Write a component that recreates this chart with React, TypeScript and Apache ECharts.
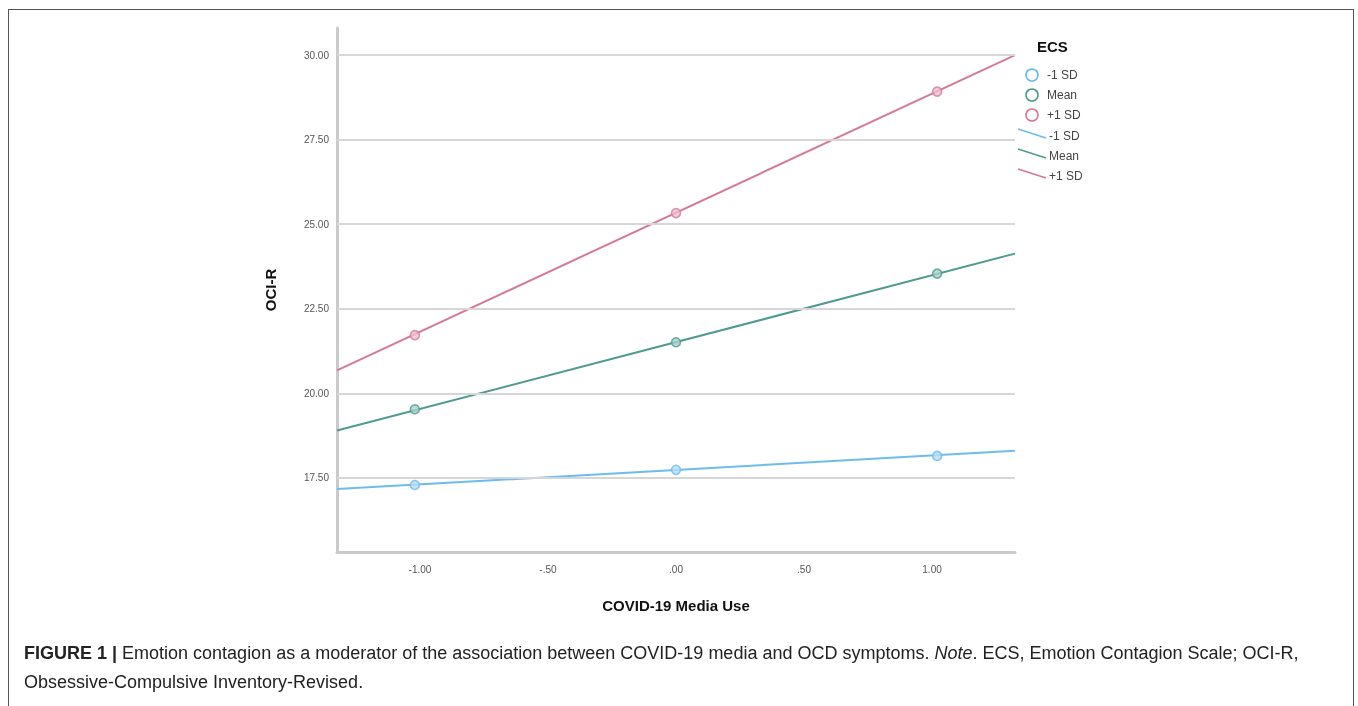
import React, { useEffect, useRef } from "react";
import * as echarts from "echarts";

// ---- data ----
const xPoints = [-1.02, 0.0, 1.02];
const lowSD = [17.29, 17.74, 18.15];
const meanSD = [19.53, 21.51, 23.54];
const highSD = [21.72, 25.33, 28.92];

const xRange = [-1.324, 1.324];
const lowFit = [17.17, 18.3];
const meanFit = [18.9, 24.13];
const highFit = [20.68, 30.0];

const yTicks = [17.5, 20, 22.5, 25, 27.5, 30];
const xTicks = [-1, -0.5, 0, 0.5, 1];
const groups = ["-1 SD", "Mean", "+1 SD"];

const COLORS = ["#6cbcee", "#4f9a92", "#d4799c"];
const FILLS = ["#b8dcf5", "#a9cfca", "#ecc0d1"];

const fmtX = (v: number) => {
  const s = Math.abs(v).toFixed(2).replace(/^0/, "");
  return (v < 0 ? "-" : "") + s;
};

export default function App() {
  const ref = useRef<HTMLDivElement>(null);
  useEffect(() => {
    if (!ref.current) return;
    const chart = echarts.init(ref.current, undefined, { renderer: "svg" });
    const pts = [lowSD, meanSD, highSD];
    const fits = [lowFit, meanFit, highFit];
    const series: any[] = [
      {
        type: "scatter",
        name: "grid",
        data: [],
        z: 1,
        silent: true,
        markLine: {
          silent: true,
          symbol: "none",
          label: { show: false },
          lineStyle: { color: "#d6d6d6", width: 2, type: "solid" },
          data: yTicks.map((v) => ({ yAxis: v })),
        },
      },
    ];
    groups.forEach((g, i) => {
      series.push({
        type: "line",
        name: g + " fit",
        data: xRange.map((x, k) => [x, fits[i][k]]),
        showSymbol: false,
        symbol: "none",
        lineStyle: { color: COLORS[i], width: 2 },
        z: 3,
      });
      series.push({
        type: "scatter",
        name: g,
        data: xPoints.map((x, k) => [x, pts[i][k]]),
        symbol: "circle",
        symbolSize: 9,
        itemStyle: { color: FILLS[i], borderColor: COLORS[i], borderWidth: 1.6 },
        z: 4,
      });
    });

    const legendX = 1032;
    const graphic: any[] = [
      {
        type: "text",
        left: 1037,
        top: 39,
        style: { text: "ECS", font: "bold 15px 'Liberation Sans', Arial", fill: "#111" },
      },
    ];
    groups.forEach((g, i) => {
      const cy = 75 + i * 20;
      graphic.push({
        type: "circle",
        shape: { cx: legendX, cy, r: 6 },
        style: { fill: "#fff", stroke: COLORS[i], lineWidth: 1.6 },
      });
      graphic.push({
        type: "text",
        x: 1047,
        y: cy,
        style: { text: g, font: "12px 'Liberation Sans', Arial", fill: "#444", verticalAlign: "middle" },
      });
    });
    groups.forEach((g, i) => {
      const cy = 136 + i * 20;
      graphic.push({
        type: "line",
        shape: { x1: 1018, y1: cy - 7, x2: 1046, y2: cy + 2 },
        style: { stroke: COLORS[i], lineWidth: 1.6 },
      });
      graphic.push({
        type: "text",
        x: 1049,
        y: cy,
        style: { text: g, font: "12px 'Liberation Sans', Arial", fill: "#444", verticalAlign: "middle" },
      });
    });
    graphic.push({
      type: "text",
      x: 24,
      y: 638,
      style: {
        text:
          "{b|FIGURE 1 |} Emotion contagion as a moderator of the association between COVID-19 media and OCD symptoms. {i|Note}. ECS, Emotion Contagion Scale; OCI-R,\nObsessive-Compulsive Inventory-Revised.",
        font: "18px 'Liberation Sans', Arial",
        fill: "#222",
        lineHeight: 29,
        rich: {
          b: { fontWeight: "bold", fontSize: 18, fontFamily: "'Liberation Sans', Arial", fill: "#222", lineHeight: 29 },
          i: { fontStyle: "italic", fontSize: 18, fontFamily: "'Liberation Sans', Arial", fill: "#222", lineHeight: 29 },
        },
      },
    });

    chart.setOption({
      animation: false,
      backgroundColor: "transparent",
      grid: { left: 337, right: 343, top: 28, bottom: 154, containLabel: false },
      xAxis: {
        type: "value",
        min: xRange[0],
        max: xRange[1],
        name: "COVID-19 Media Use",
        nameLocation: "middle",
        nameGap: 46,
        nameTextStyle: { fontFamily: "'Liberation Sans', Arial", fontWeight: "bold", fontSize: 15, color: "#111" },
        axisLine: { show: true, onZero: false, lineStyle: { color: "#cacaca", width: 3 } },
        axisTick: { show: false },
        splitLine: { show: false },
        axisLabel: {
          customValues: xTicks,
          formatter: (v: number) => fmtX(v),
          fontFamily: "'Liberation Sans', Arial",
          fontSize: 10,
          color: "#555",
          margin: 12,
        },
      },
      yAxis: {
        type: "value",
        min: 15.31,
        max: 30.8,
        name: "OCI-R",
        nameLocation: "middle",
        nameGap: 59,
        nameRotate: 90,
        nameTextStyle: { fontFamily: "'Liberation Sans', Arial", fontWeight: "bold", fontSize: 15, color: "#111" },
        axisLine: { show: true, onZero: false, lineStyle: { color: "#cacaca", width: 3 } },
        axisTick: { show: false },
        splitLine: { show: false },
        axisLabel: {
          customValues: yTicks,
          formatter: (v: number) => v.toFixed(2),
          fontFamily: "'Liberation Sans', Arial",
          fontSize: 10,
          color: "#555",
          margin: 8,
        },
      },
      series,
      graphic,
    });
    return () => chart.dispose();
  }, []);

  return (
    <>
      <div
        style={{
          position: "fixed",
          left: 8,
          top: 9,
          width: 1346,
          height: 710,
          borderLeft: "1px solid #555",
          borderTop: "1px solid #555",
          borderRight: "1px solid #555",
          boxSizing: "border-box",
        }}
      />
      <div ref={ref} style={{ position: "fixed", left: 0, top: 0, width: 1358, height: 706 }} />
    </>
  );
}
